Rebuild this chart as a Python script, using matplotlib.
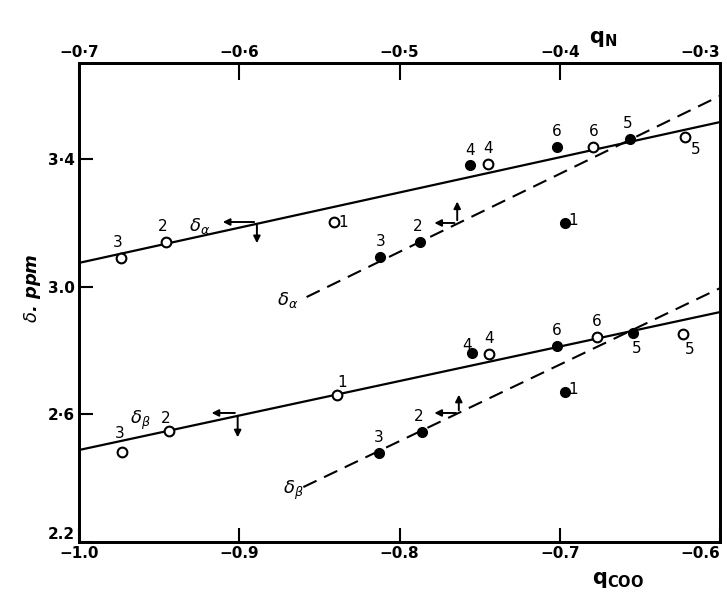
import numpy as np
import matplotlib.pyplot as plt

# open circles: delta vs q_COO (bottom axis)
open_labels = ['3', '2', '1', '4', '6', '5']
alpha_open_qcoo = [-0.974, -0.946, -0.841, -0.745, -0.679, -0.622]
alpha_open_delta = [3.089, 3.139, 3.202, 3.384, 3.437, 3.468]
beta_open_qcoo = [-0.973, -0.944, -0.839, -0.744, -0.677, -0.623]
beta_open_delta = [2.482, 2.548, 2.660, 2.789, 2.843, 2.852]

# filled circles: delta vs q_N (top axis)
filled_labels = ['3', '2', '4', '6', '5', '1']
alpha_filled_qn = [-0.512, -0.487, -0.456, -0.402, -0.356, -0.397]
alpha_filled_delta = [3.092, 3.139, 3.381, 3.437, 3.462, 3.199]
beta_filled_qn = [-0.513, -0.486, -0.455, -0.402, -0.354, -0.397]
beta_filled_delta = [2.479, 2.544, 2.792, 2.813, 2.854, 2.670]

# fitted lines (end points)
alpha_solid_x = [-1.0, -0.6]
alpha_solid_y = [3.074, 3.515]
beta_solid_x = [-1.0, -0.6]
beta_solid_y = [2.488, 2.920]
alpha_dashed_x = [-0.558, -0.3]
alpha_dashed_y = [2.967, 3.597]
beta_dashed_x = [-0.560, -0.3]
beta_dashed_y = [2.372, 2.995]

bottom_ticks = [-1.0, -0.9, -0.8, -0.7, -0.6]
bottom_ticklabels = ['\u22121.0', '\u22120.9', '\u22120.8', '\u22120.7', '\u22120.6']
top_ticks = [-0.7, -0.6, -0.5, -0.4, -0.3]
top_ticklabels = ['\u22120\u00b77', '\u22120\u00b76', '\u22120\u00b75', '\u22120\u00b74', '\u22120\u00b73']
y_ticks = [2.2, 2.6, 3.0, 3.4]
y_ticklabels = ['2.2', '2\u00b76', '3.0', '3\u00b74']

fig = plt.figure(figsize=(7.27, 6.01), dpi=100)
ax = fig.add_axes([0.1087, 0.0982, 0.8817, 0.797])
ax2 = ax.twiny()

ax.set_xlim(-1.0, -0.6)
ax.set_ylim(2.2, 3.7)
ax2.set_xlim(-0.7, -0.3)

lw_frame = 2.0
for a in (ax, ax2):
    for s in a.spines.values():
        s.set_linewidth(lw_frame)

ax.set_xticks(bottom_ticks, bottom_ticklabels)
ax.set_yticks(y_ticks, y_ticklabels)
ax2.set_xticks(top_ticks, top_ticklabels)
ax.tick_params(axis='x', direction='in', length=10, width=1.5, pad=3,
               labelsize=11)
ax.tick_params(axis='y', direction='in', length=10, width=1.5, pad=3,
               labelsize=11)
ax2.tick_params(axis='x', direction='in', length=12, width=1.5, pad=2,
                labelsize=11)
for lab in ax.get_xticklabels() + ax.get_yticklabels() + ax2.get_xticklabels():
    lab.set_fontweight('bold')
# keep corner labels clear of each other and inside the figure
ax.get_yticklabels()[0].set_verticalalignment('bottom')
ax.get_xticklabels()[-1].set_horizontalalignment('right')
ax2.get_xticklabels()[-1].set_horizontalalignment('right')

# lines
ax.plot(alpha_solid_x, alpha_solid_y, color='black', lw=1.6)
ax.plot(beta_solid_x, beta_solid_y, color='black', lw=1.6)
ax2.plot(alpha_dashed_x, alpha_dashed_y, color='black', lw=1.5, dashes=(7, 4))
ax2.plot(beta_dashed_x, beta_dashed_y, color='black', lw=1.5, dashes=(7, 4))

# points
ms = 7
ax.plot(alpha_open_qcoo, alpha_open_delta, 'o', ms=ms, mfc='white', mec='black', mew=1.5)
ax.plot(beta_open_qcoo, beta_open_delta, 'o', ms=ms, mfc='white', mec='black', mew=1.5)
ax2.plot(alpha_filled_qn, alpha_filled_delta, 'o', ms=ms, color='black')
ax2.plot(beta_filled_qn, beta_filled_delta, 'o', ms=ms, color='black')

# point labels (offsets in points)
num_kw = dict(fontsize=11, ha='center', va='center', textcoords='offset points')
alpha_open_off = [(-2, 11), (-2, 11), (7, 0), (0, 11), (0, 11), (8, -9)]
beta_open_off = [(-2, 13), (-2, 9), (4, 9), (0, 11), (0, 11), (5, -11)]
alpha_filled_off = [(0, 11), (-2, 11), (0, 10), (0, 11), (-2, 11), (6, 2)]
beta_filled_off = [(0, 11), (-2, 11), (-3, 5), (0, 11), (2, -11), (6, 2)]

for lab, x, y, off in zip(open_labels, alpha_open_qcoo, alpha_open_delta, alpha_open_off):
    ax.annotate(lab, (x, y), xytext=off, **num_kw)
for lab, x, y, off in zip(open_labels, beta_open_qcoo, beta_open_delta, beta_open_off):
    ax.annotate(lab, (x, y), xytext=off, **num_kw)
for lab, x, y, off in zip(filled_labels, alpha_filled_qn, alpha_filled_delta, alpha_filled_off):
    ax2.annotate(lab, (x, y), xytext=off, **num_kw)
for lab, x, y, off in zip(filled_labels, beta_filled_qn, beta_filled_delta, beta_filled_off):
    ax2.annotate(lab, (x, y), xytext=off, **num_kw)

# delta labels
ax.text(-0.925, 3.19, r'$\delta_\alpha$', fontsize=13, ha='center', va='center')
ax.text(-0.870, 2.958, r'$\delta_\alpha$', fontsize=13, ha='center', va='center')
ax.text(-0.962, 2.58, r'$\delta_\beta$', fontsize=13, ha='center', va='center')
ax.text(-0.866, 2.363, r'$\delta_\beta$', fontsize=13, ha='center', va='center')

# axis-direction arrows
arr = dict(arrowstyle='-|>', color='black', lw=1.4, mutation_scale=10)


def corner_arrows(cx, cy, hx, vy):
    ax.annotate('', xy=(hx, cy), xytext=(cx, cy), arrowprops=arr)
    ax.annotate('', xy=(cx, vy), xytext=(cx, cy), arrowprops=arr)


corner_arrows(-0.889, 3.202, -0.912, 3.127)
corner_arrows(-0.764, 3.199, -0.780, 3.275)
corner_arrows(-0.901, 2.604, -0.919, 2.519)
corner_arrows(-0.763, 2.604, -0.780, 2.670)

# axis titles
fig.text(0.045, 0.52, r'$\delta$. ppm', rotation=90, fontsize=13,
         fontweight='bold', fontstyle='italic', ha='center', va='center')
fig.text(0.83, 0.935, r'q$_\mathbf{N}$', fontsize=15, fontweight='bold',
         ha='center', va='center')
fig.text(0.85, 0.035, r'q$_\mathbf{COO}$', fontsize=15, fontweight='bold',
         ha='center', va='center')

fig.savefig('out.png', dpi=100)
